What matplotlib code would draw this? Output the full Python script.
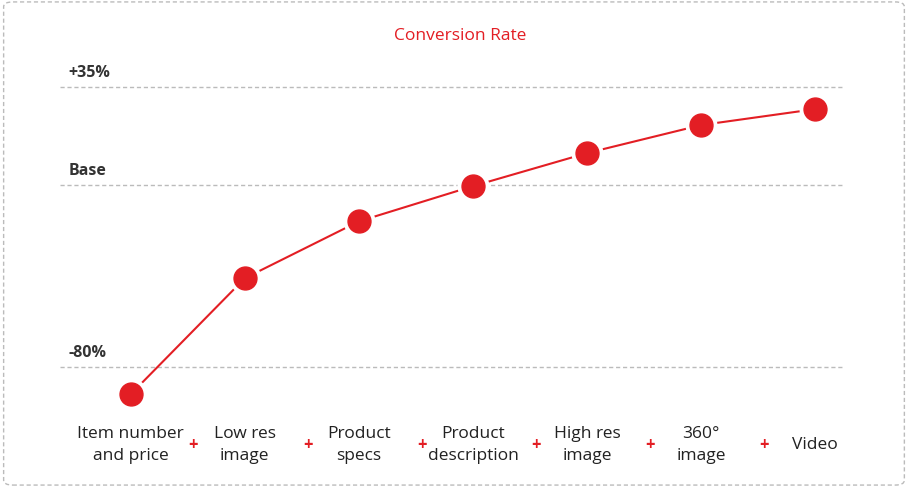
import matplotlib.pyplot as plt
import numpy as np
from matplotlib.patches import FancyBboxPatch
from matplotlib.scale import FuncScale

plt.rcParams["font.family"] = "Open Sans"

steps = ["Item number\nand price", "Low res\nimage", "Product\nspecs", "Product\ndescription",
         "High res\nimage", "360°\nimage", "Video"]
conversion = [-92, -41, -16, -0.5, 11.4, 21.4, 27.1]
tick_values = [35, 0, -80]
tick_labels = ["+35%", "Base", "-80%"]
RED = "#E31E24"


def forward(v):
    v = np.asarray(v, dtype=float)
    return np.where(v >= 0, v * 2.8, v * 2.275)


def inverse(p):
    p = np.asarray(p, dtype=float)
    return np.where(p >= 0, p / 2.8, p / 2.275)


fig = plt.figure(figsize=(9.08, 4.89), dpi=100)
fig.patches.append(FancyBboxPatch((0.004, 0.006), 0.992, 0.988, boxstyle="round,pad=0,rounding_size=0.01",
                                  transform=fig.transFigure, fill=False, ec="#BBBBBB", ls=(0, (3, 2)), lw=1))
ax = fig.add_axes([60 / 908, 1 - 410 / 489, 785 / 908, 350 / 489])
ax.set_yscale(FuncScale(ax, (forward, inverse)))
ax.set_ylim(-98.5, 45)
x = np.arange(len(steps))
ax.set_xlim(-0.62, 6.26)

for v, lab in zip(tick_values, tick_labels):
    ax.axhline(v, color="#BBBBBB", ls=(0, (3, 2)), lw=1)
    ax.annotate(lab, (0, v), xycoords=("axes fraction", "data"), xytext=(6, 5), textcoords="offset points",
                fontsize=11.5, fontweight="bold", color="#333333", va="bottom")

ax.plot(x, conversion, color=RED, lw=1.5, marker="o", ms=18, mfc=RED, mec="white", mew=5, zorder=3)
ax.plot(x, conversion, ls="none", marker="o", ms=16.5, color=RED, zorder=4)

for i, s in enumerate(steps):
    ax.text(i, -0.1, s, transform=ax.get_xaxis_transform(), ha="center", va="center", fontsize=12.5,
            color="#222222", linespacing=1.45)
    if i < len(steps) - 1:
        ax.text(i + 0.55, -0.1, "+", transform=ax.get_xaxis_transform(), ha="center", va="center",
                fontsize=12, fontweight="bold", color=RED)

fig.text(460 / 908, 1 - 36 / 489, "Conversion Rate", ha="center", va="center", fontsize=12.5, color=RED)
ax.axis("off")
fig.savefig("out.png", dpi=100, facecolor="white")
